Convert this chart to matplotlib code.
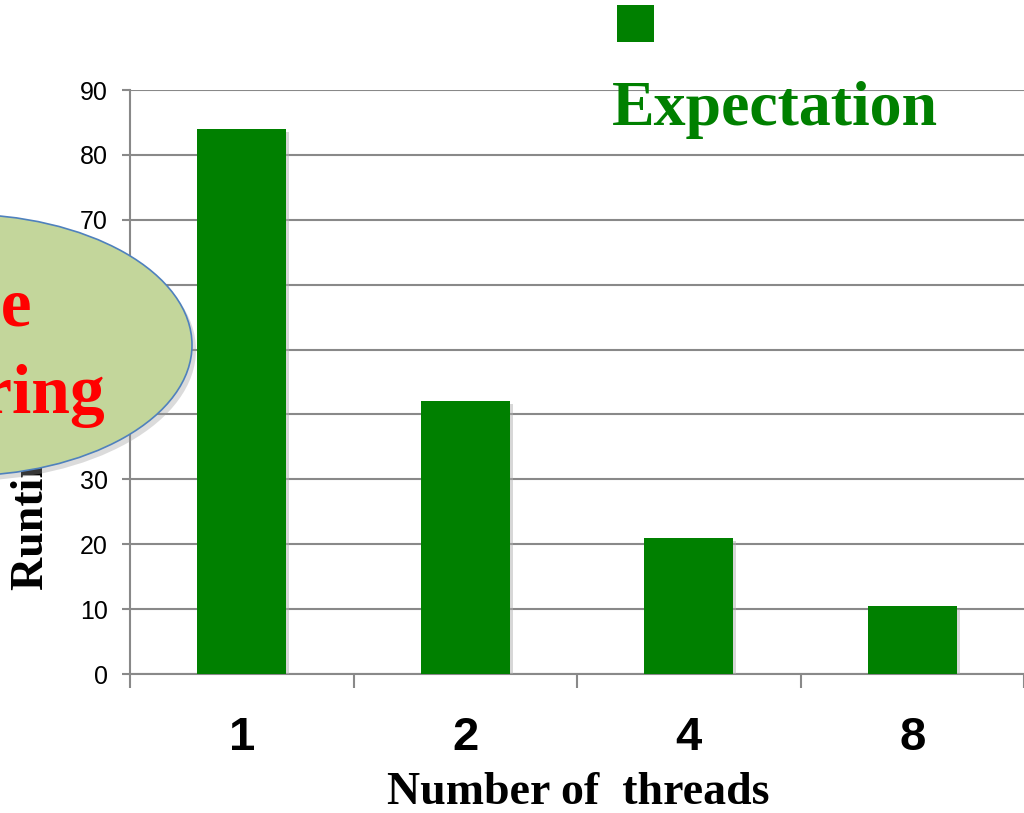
import matplotlib
matplotlib.use("Agg")
import numpy as np
import matplotlib.pyplot as plt
from matplotlib.patches import Ellipse, Rectangle
import matplotlib.patheffects as pe

threads = ["1", "2", "4", "8"]
runtime = [84, 42, 21, 10.5]
yticks = [0, 10, 20, 30, 40, 50, 60, 70, 80, 90]

W, H = 1024, 813
fig = plt.figure(figsize=(W / 100, H / 100), dpi=100)
ax = fig.add_axes([130 / W, 1 - 674 / H, 1 - 130 / W, (674 - 90) / H])

grey = "#898989"
green = "#008000"

x = np.arange(len(threads))
bars = ax.bar(x, runtime, width=0.4, color=green, zorder=3)
for b in bars:
    b.set_path_effects([pe.SimplePatchShadow(offset=(2, -2), shadow_rgbFace="#b0b0b0", alpha=0.5),
                        pe.Normal()])

ax.set_xlim(-0.5, len(threads) - 0.5)
ax.set_ylim(0, 90)
ax.set_yticks(yticks)
ax.yaxis.grid(True, color=grey, lw=1.5, zorder=0)
ax.set_axisbelow(True)

for s in ["top", "right"]:
    ax.spines[s].set_visible(False)
for s in ["left", "bottom"]:
    ax.spines[s].set_color(grey)
    ax.spines[s].set_linewidth(1.5)

ax.tick_params(axis="y", length=6, width=1.5, color=grey, pad=10,
               labelsize=18, labelcolor="black")
for t in ax.get_yticklabels():
    t.set_fontfamily("Liberation Sans")

# category boundaries get the ticks, centres get the labels
ax.set_xticks(x)
ax.set_xticklabels(threads, fontfamily="Liberation Sans", fontweight="bold", fontsize=34)
ax.set_xticks(np.arange(len(threads) + 1) - 0.5, minor=True)
ax.tick_params(axis="x", which="major", length=0, pad=30)
ax.tick_params(axis="x", which="minor", length=10, width=1.5, color=grey)

fig.text(578 / W, 1 - 793 / H, "Number of  threads", ha="center", va="center",
         fontfamily="Liberation Serif", fontweight="bold", fontsize=33)
fig.text(32 / W, 1 - 590 / H, "Runtime (seconds)", rotation=90, ha="center", va="bottom",
         fontfamily="Liberation Serif", fontweight="bold", fontsize=33)

# legend: square over label
fig.add_artist(Rectangle((617 / W, 1 - 42 / H), 37 / W, 37 / H, transform=fig.transFigure,
                         facecolor=green, edgecolor="none"))
fig.text(612 / W, 1 - 125 / H, "Expectation", ha="left", va="baseline",
         fontfamily="Liberation Serif", fontweight="bold", fontsize=46, color=green)

# callout bubble
cx, cy, ew, eh = -40, 345, 464, 262
fig.add_artist(Ellipse(((cx + 4) / W, 1 - (cy + 5) / H), ew / W, eh / H, transform=fig.transFigure,
                       facecolor="#9a9a9a", edgecolor="none", alpha=0.35, zorder=10))
fig.add_artist(Ellipse((cx / W, 1 - cy / H), ew / W, eh / H, transform=fig.transFigure,
                       facecolor="#c3d69b", edgecolor="#4f81bd", lw=1.2, zorder=11))
fig.text(32 / W, 1 - 325 / H, "False", ha="right", va="baseline", color="red",
         fontfamily="Liberation Serif", fontweight="bold", fontsize=50, zorder=12)
fig.text(105 / W, 1 - 413 / H, "Sharing", ha="right", va="baseline", color="red",
         fontfamily="Liberation Serif", fontweight="bold", fontsize=50, zorder=12)

fig.savefig("out.png", dpi=100)
